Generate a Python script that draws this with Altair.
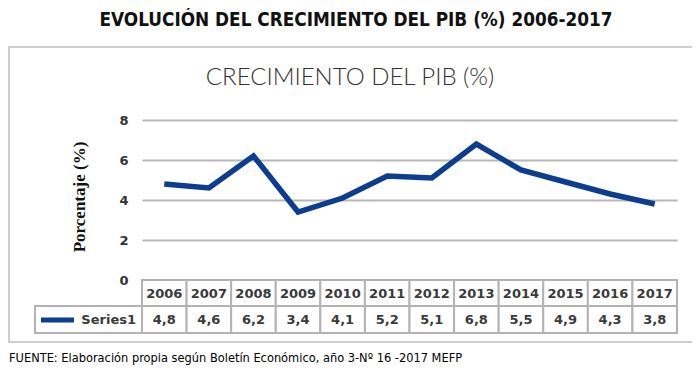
import altair as alt
import pandas as pd

years = ["2006", "2007", "2008", "2009", "2010", "2011", "2012", "2013", "2014", "2015", "2016", "2017"]
values = [4.8, 4.6, 6.2, 3.4, 4.1, 5.2, 5.1, 6.8, 5.5, 4.9, 4.3, 3.8]
series_name = "Series1"
y_ticks = [0, 2, 4, 6, 8]

main_title = "EVOLUCIÓN DEL CRECIMIENTO DEL PIB (%) 2006-2017"
inner_title = "CRECIMIENTO DEL PIB (%)"
y_title = "Porcentaje (%)"
footer = "FUENTE: Elaboración propia según Boletín Económico, año 3-Nº 16 -2017 MEFP"

df = pd.DataFrame({
    "year": years,
    "value": values,
    "label": [f"{v:.1f}".replace(".", ",") for v in values],
})
one = pd.DataFrame({"k": [0]})

BLUE = "#0D3D8F"
GRID = "#b8b8b8"
CELL = "#b3b3b3"
COND = "DejaVu Sans Condensed, Open Sans, sans-serif"

x_enc = alt.X("year:O", scale=alt.Scale(paddingInner=0, paddingOuter=0), axis=None, sort=years)

line = alt.Chart(df).mark_line(color=BLUE, strokeWidth=5.5, strokeJoin="miter").encode(
    x=x_enc,
    y=alt.Y("value:Q", scale=alt.Scale(domain=[0, 8], nice=False),
            axis=alt.Axis(values=y_ticks, grid=True, gridColor=GRID, gridWidth=2,
                          domain=False, ticks=False, labelFontWeight="bold",
                          labelFontSize=13, labelColor="#333", labelPadding=14,
                          labelFont="DejaVu Sans", title=None)),
)

cell_font = dict(font="DejaVu Sans", fontSize=13, fontWeight="bold", color="#3a3a3a")

head_cells = alt.Chart(df).mark_rect(fill="white", stroke=CELL, strokeWidth=2).encode(
    x=x_enc, y=alt.value(160), y2=alt.value(186))
val_cells = alt.Chart(df).mark_rect(fill="white", stroke=CELL, strokeWidth=2).encode(
    x=x_enc, y=alt.value(186), y2=alt.value(213))
head_text = alt.Chart(df).mark_text(**cell_font).encode(
    x=x_enc, y=alt.value(174), text="year:N")
val_text = alt.Chart(df).mark_text(**cell_font).encode(
    x=x_enc, y=alt.value(200), text="label:N")

label_cell = alt.Chart(one).mark_rect(fill="white", stroke=CELL, strokeWidth=2).encode(
    x=alt.value(-107), x2=alt.value(0), y=alt.value(186), y2=alt.value(213))
swatch = alt.Chart(one).mark_rule(color=BLUE, strokeWidth=5).encode(
    x=alt.value(-101), x2=alt.value(-68), y=alt.value(200))
series_text = alt.Chart(one).mark_text(align="right", **cell_font).encode(
    x=alt.value(-6), y=alt.value(200), text=alt.value(series_name))

outer_box = alt.Chart(one).mark_rect(fill=None, stroke="#cfcfcf", strokeWidth=2).encode(
    x=alt.value(-133), x2=alt.value(551), y=alt.value(-73), y2=alt.value(222))

t_main = alt.Chart(one).mark_text(font=COND, fontSize=18.8, fontWeight="bold",
                                  color="#111").encode(
    x=alt.value(214), y=alt.value(-100), text=alt.value(main_title))
t_inner = alt.Chart(one).mark_text(font="Lato", fontSize=24, fontWeight=300,
                                   color="#333").encode(
    x=alt.value(208), y=alt.value(-42), text=alt.value(inner_title))
t_y = alt.Chart(one).mark_text(font="Liberation Serif", fontSize=17, fontWeight="bold",
                               color="#111", angle=270).encode(
    x=alt.value(-62), y=alt.value(77), text=alt.value(y_title))
t_foot = alt.Chart(one).mark_text(font=COND, fontSize=12.7, color="#000",
                                  align="left").encode(
    x=alt.value(-133), y=alt.value(238), text=alt.value(footer))

chart = alt.layer(
    outer_box, line, head_cells, val_cells, label_cell, head_text, val_text,
    swatch, series_text, t_main, t_inner, t_y, t_foot,
).properties(
    width=535, height=160,
    padding={"left": 134, "top": 112, "right": 15, "bottom": 94},
    autosize=alt.AutoSizeParams(type="none"),
    background="white",
).configure_view(stroke=None)

chart.save("out.html", embed_options={"renderer": "svg", "actions": False})
